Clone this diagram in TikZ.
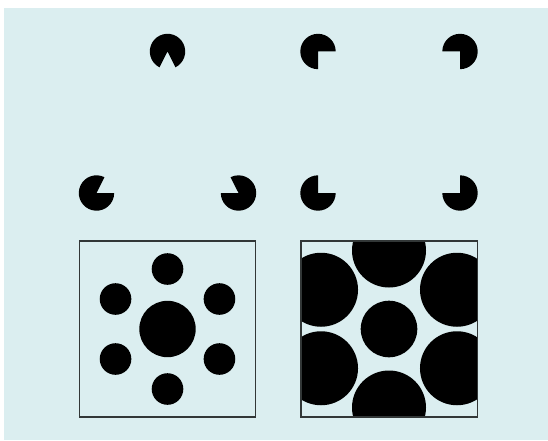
\documentclass[tikz,border=0pt]{standalone}
\definecolor{bgblue}{RGB}{219,238,240}
\definecolor{frame}{RGB}{50,55,55}
\tikzset{
  pac/.style={fill=black},
  frm/.style={draw=frame,line width=0.8pt},
}
\newcommand{\pacman}[4]{% center, from angle, to angle, radius
  \fill[pac] #1 -- +(#2:#4) arc[start angle=#2,end angle=#3,radius=#4] -- cycle;}
\begin{document}
\begin{tikzpicture}[x=0.75pt,y=0.75pt]
\fill[white] (0,0) rectangle (548,440);
\useasboundingbox (0,0) rectangle (548,440);
\fill[bgblue] (4,0) rectangle (548,432);
\def\r{17.7}
% Kanizsa triangle
\pacman{(167.5,388.5)}{296.65}{603.35}{\r}
\pacman{(96.5,247)}{63.35}{360}{\r}
\pacman{(238.5,247)}{180}{476.65}{\r}
% Kanizsa square
\pacman{(318,388.5)}{0}{270}{\r}
\pacman{(460,388.5)}{270}{540}{\r}
\pacman{(318,247)}{90}{360}{\r}
\pacman{(460,247)}{180}{450}{\r}
% Ebbinghaus left
\coordinate (L) at (167.5,111);
\fill (L) circle[radius=28.2];
\foreach \a in {30,90,150,210,270,330}
  \fill (L) ++(\a:60) circle[radius=15.8];
\draw[frm] (79.5,23) rectangle (255.5,199);
% Ebbinghaus right
\coordinate (R) at (389,111);
\begin{scope}
  \clip (301,23) rectangle (477.5,199);
  \fill (R) circle[radius=28.3];
  \foreach \a in {30,90,150,210,270,330}
    \fill (R) ++(\a:78.5) circle[radius=37];
\end{scope}
\draw[frm] (301,23) rectangle (477.5,199);
\end{tikzpicture}
\end{document}
